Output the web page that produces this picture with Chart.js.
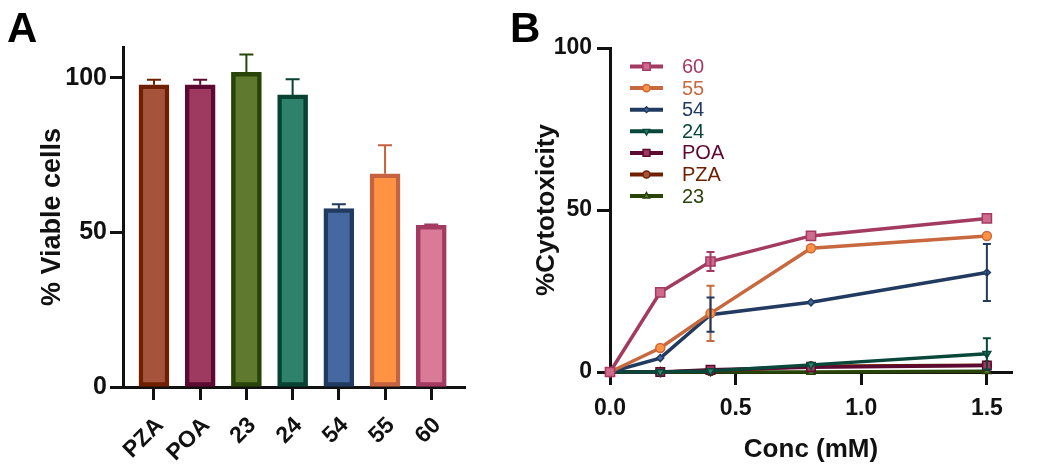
<!DOCTYPE html>
<html lang="en">
<head>
    <meta charset="UTF-8">
    <title>Viability and cytotoxicity</title>
    <script src="https://cdn.jsdelivr.net/npm/chart.js"></script>
    <style>
        body {
            margin: 0;
            background: #fff;
        }

        .figure {
            position: relative;
            width: 1050px;
            height: 471px;
        }

        .panel {
            position: absolute;
            top: 0;
            height: 471px;
        }

        .panel-letter {
            position: absolute;
            top: 4px;
            font-family: 'Liberation Sans', Arial, sans-serif;
            font-weight: bold;
            font-size: 42px;
            line-height: 48px;
            color: #000;
            z-index: 2;
        }
    </style>
</head>
<body>
    <div class="figure">
        <div class="panel-letter" style="left:7px">A</div>
        <div class="panel-letter" style="left:510px">B</div>
        <div class="panel" style="left:0;width:500px"><canvas id="viabilityChart"></canvas></div>
        <div class="panel" style="left:500px;width:550px"><canvas id="cytoChart"></canvas></div>
    </div>

    <script>
        // Panel A - % viable cells per compound
        const groups = ['PZA', 'POA', '23', '24', '54', '55', '60'];
        const viability = [97.8, 97.8, 101.8, 94.5, 57.7, 69.0, 52.3];
        const viabilitySd = [1.6, 1.6, 5.8, 5.1, 1.4, 9.2, 0.3];
        const barFills = ['#A5533A', '#9E3A5F', '#5F7A2E', '#2E826C', '#4568A1', '#FF9343', '#D97A98'];
        const barEdges = ['#6E2000', '#5C0A32', '#294408', '#084232', '#213A60', '#C5623F', '#A33B60'];
        const viabilityTicks = [0, 50, 100];

        // Panel B - % cytotoxicity vs concentration
        const conc = [0, 0.2, 0.4, 0.8, 1.5];
        const concTicks = [0, 0.5, 1.0, 1.5];
        const cytoTicks = [0, 50, 100];
        const cyto60 = [0, 24.6, 34.1, 42.0, 47.4];
        const cyto60Sd = [0, 0, 2.9, 0, 0];
        const cyto55 = [0, 7.4, 18.1, 38.2, 42.0];
        const cyto55Sd = [0, 0, 8.5, 0, 0];
        const cyto54 = [0, 4.3, 17.7, 21.5, 30.7];
        const cyto54Sd = [0, 0, 5.3, 0, 8.8];
        const cyto24 = [0, 0, 0.3, 2.2, 5.6];
        const cyto24Sd = [0, 0, 0, 0, 4.8];
        const cytoPOA = [0, 0, 0.7, 1.5, 2.0];
        const cytoPZA = [0, 0, 0.3, 1.8, 2.1];
        const cyto23 = [0, 0, 0, 0, 0.2];

        const ink = '#111111';
        Chart.defaults.font.family = "'Liberation Sans', Arial, sans-serif";
        Chart.defaults.color = ink;

        function points(values) {
            return values.map((v, i) => ({ x: conc[i], y: v }));
        }

        // up-only error bars on the bars
        const barErrors = {
            id: 'barErrors',
            afterDatasetsDraw(chart) {
                const ctx = chart.ctx;
                const yScale = chart.scales.y;
                const meta = chart.getDatasetMeta(0);
                ctx.save();
                ctx.lineWidth = 2;
                meta.data.forEach((bar, i) => {
                    const top = yScale.getPixelForValue(viability[i] + viabilitySd[i]);
                    const base = yScale.getPixelForValue(viability[i]);
                    ctx.strokeStyle = barEdges[i];
                    ctx.beginPath();
                    ctx.moveTo(bar.x, base);
                    ctx.lineTo(bar.x, top);
                    ctx.moveTo(bar.x - 7, top);
                    ctx.lineTo(bar.x + 7, top);
                    ctx.stroke();
                });
                ctx.restore();
            }
        };

        // symmetric error bars on the lines
        const lineErrors = {
            id: 'lineErrors',
            afterDatasetsDraw(chart) {
                const ctx = chart.ctx;
                const xs = chart.scales.x, ys = chart.scales.y;
                ctx.save();
                ctx.lineWidth = 2;
                chart.data.datasets.forEach(ds => {
                    if (!ds.sd) return;
                    ctx.strokeStyle = ds.borderColor;
                    ds.sd.forEach((e, i) => {
                        if (!e) return;
                        const x = xs.getPixelForValue(conc[i]);
                        const hi = ys.getPixelForValue(ds.data[i].y + e);
                        const lo = ys.getPixelForValue(ds.data[i].y - e);
                        ctx.beginPath();
                        ctx.moveTo(x, hi);
                        ctx.lineTo(x, lo);
                        ctx.moveTo(x - 4, hi);
                        ctx.lineTo(x + 4, hi);
                        ctx.moveTo(x - 4, lo);
                        ctx.lineTo(x + 4, lo);
                        ctx.stroke();
                    });
                });
                ctx.restore();
            }
        };

        // GraphPad style legend: line + marker, label in series colour
        const seriesLegend = {
            id: 'seriesLegend',
            afterDraw(chart) {
                const ctx = chart.ctx;
                const left = chart.chartArea.left + 20;
                ctx.save();
                ctx.font = "20px 'Liberation Sans', Arial, sans-serif";
                ctx.textBaseline = 'middle';
                chart.data.datasets.forEach((ds, i) => {
                    const y = 66.5 + i * 21.6;
                    ctx.strokeStyle = ds.borderColor;
                    ctx.lineWidth = 4;
                    ctx.beginPath();
                    ctx.moveTo(left, y);
                    ctx.lineTo(left + 33, y);
                    ctx.stroke();
                    ctx.fillStyle = ds.pointBackgroundColor;
                    ctx.strokeStyle = ds.borderColor;
                    ctx.lineWidth = 1.5;
                    Chart.helpers.drawPoint(ctx, {
                        pointStyle: ds.pointStyle,
                        rotation: ds.pointRotation || 0,
                        radius: ds.pointRadius * 0.8,
                        borderWidth: 1.5
                    }, left + 16.5, y);
                    ctx.fillStyle = ds.borderColor;
                    ctx.fillText(ds.label, left + 52, y + 1);
                });
                ctx.restore();
            }
        };

        const axisGrid = {
            drawOnChartArea: false,
            drawTicks: true,
            offset: false,
            tickLength: 13,
            tickWidth: 3,
            tickColor: ink
        };
        const axisBorder = { width: 3, color: ink };

        new Chart(document.getElementById('viabilityChart'), {
            type: 'bar',
            data: {
                datasets: [{
                    data: groups.map((g, i) => ({ x: i, y: viability[i] })),
                    backgroundColor: barFills,
                    borderColor: barEdges,
                    borderWidth: 4.5,
                    borderSkipped: false,
                    barThickness: 30
                }]
            },
            options: {
                responsive: true,
                maintainAspectRatio: false,
                animation: false,
                layout: { padding: { top: 47, right: 35, left: 0, bottom: 0 } },
                plugins: { legend: { display: false }, tooltip: { enabled: false } },
                scales: {
                    x: {
                        type: 'linear',
                        min: -0.67,
                        max: 6.73,
                        offset: false,
                        grid: axisGrid,
                        border: axisBorder,
                        afterBuildTicks: s => { s.ticks = groups.map((g, i) => ({ value: i })); },
                        afterFit: s => { s.height = 84; },
                        ticks: {
                            minRotation: 45,
                            maxRotation: 45,
                            padding: 12,
                            labelOffset: 6,
                            font: { size: 23, weight: 'bold' },
                            callback: v => groups[v]
                        }
                    },
                    y: {
                        min: 0,
                        max: 110,
                        grid: axisGrid,
                        border: axisBorder,
                        afterBuildTicks: s => { s.ticks = viabilityTicks.map(v => ({ value: v })); },
                        afterFit: s => { s.width = 123; },
                        ticks: { padding: 3, font: { size: 25, weight: 'bold' } },
                        title: {
                            display: true,
                            text: '% Viable cells',
                            padding: { top: 36, bottom: 0 },
                            font: { size: 27, weight: 'bold' }
                        }
                    }
                }
            },
            plugins: [barErrors]
        });

        new Chart(document.getElementById('cytoChart'), {
            type: 'line',
            data: {
                datasets: [
                    { label: '60', data: points(cyto60), sd: cyto60Sd, borderColor: '#A33B60', pointBackgroundColor: '#D06A8C', pointStyle: 'rect', pointRadius: 6.5 },
                    { label: '55', data: points(cyto55), sd: cyto55Sd, borderColor: '#C8683F', pointBackgroundColor: '#FF9343', pointStyle: 'circle', pointRadius: 4.5 },
                    { label: '54', data: points(cyto54), sd: cyto54Sd, borderColor: '#213A60', pointBackgroundColor: '#4568A1', pointStyle: 'rectRot', pointRadius: 3.5 },
                    { label: '24', data: points(cyto24), sd: cyto24Sd, borderColor: '#08473A', pointBackgroundColor: '#2E826C', pointStyle: 'triangle', pointRotation: 180, pointRadius: 4.5 },
                    { label: 'POA', data: points(cytoPOA), borderColor: '#5C0A32', pointBackgroundColor: '#9E3A5F', pointStyle: 'rect', pointRadius: 6 },
                    { label: 'PZA', data: points(cytoPZA), borderColor: '#6E2000', pointBackgroundColor: '#A5533A', pointStyle: 'circle', pointRadius: 4.5 },
                    { label: '23', data: points(cyto23), borderColor: '#294408', pointBackgroundColor: '#5F7A2E', pointStyle: 'triangle', pointRadius: 4.5 }
                ].map(ds => Object.assign({
                    borderWidth: 3.5,
                    tension: 0,
                    clip: false,
                    pointBorderColor: ds.borderColor,
                    pointBorderWidth: 1.5,
                    fill: false
                }, ds))
            },
            options: {
                responsive: true,
                maintainAspectRatio: false,
                animation: false,
                layout: { padding: { top: 48, right: 38, left: 0, bottom: 0 } },
                plugins: { legend: { display: false }, tooltip: { enabled: false } },
                scales: {
                    x: {
                        type: 'linear',
                        min: 0,
                        max: 1.6,
                        grid: axisGrid,
                        border: axisBorder,
                        afterBuildTicks: s => { s.ticks = concTicks.map(v => ({ value: v })); },
                        afterFit: s => { s.height = 99; },
                        ticks: {
                            padding: 10,
                            font: { size: 23, weight: 'bold' },
                            callback: v => v.toFixed(1)
                        },
                        title: {
                            display: true,
                            text: 'Conc (mM)',
                            padding: { top: 0, bottom: 6 },
                            font: { size: 26, weight: 'bold' }
                        }
                    },
                    y: {
                        min: 0,
                        max: 100,
                        grid: axisGrid,
                        border: axisBorder,
                        afterBuildTicks: s => { s.ticks = cytoTicks.map(v => ({ value: v })); },
                        afterFit: s => { s.width = 110; },
                        ticks: { padding: 5, font: { size: 23, weight: 'bold' } },
                        title: {
                            display: true,
                            text: '%Cytotoxicity',
                            padding: { top: 31, bottom: 0 },
                            font: { size: 26, weight: 'bold' }
                        }
                    }
                }
            },
            plugins: [lineErrors, seriesLegend]
        });
    </script>
</body>
</html>
